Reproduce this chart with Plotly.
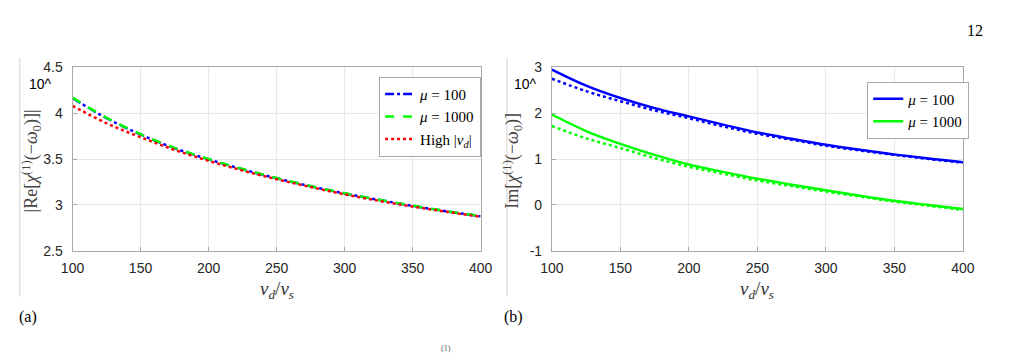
import plotly.graph_objects as go

W, H = 1012, 362

# ---------------- data ----------------
vd = [100, 125, 150, 175, 200, 225, 250, 275, 300, 325, 350, 375, 400]

# panel (a): |Re[chi^(1)(-w0)]|
re_mu100 = [4.165, 3.945, 3.768, 3.618, 3.497, 3.388, 3.290, 3.203, 3.125, 3.055, 2.990, 2.930, 2.876]
re_mu1000 = [4.170, 3.950, 3.772, 3.622, 3.500, 3.391, 3.293, 3.205, 3.127, 3.057, 2.992, 2.932, 2.878]
re_high = [4.080, 3.890, 3.738, 3.600, 3.480, 3.375, 3.280, 3.195, 3.115, 3.045, 2.982, 2.925, 2.870]

# panel (b): Im[chi^(1)(-w0)]
im_mu100 = [2.95, 2.60, 2.33, 2.11, 1.93, 1.75, 1.58, 1.44, 1.31, 1.20, 1.10, 1.01, 0.93]
im_mu100_hi = [2.75, 2.48, 2.26, 2.06, 1.89, 1.71, 1.55, 1.42, 1.29, 1.185, 1.09, 1.00, 0.92]
im_mu1000 = [1.97, 1.61, 1.33, 1.09, 0.88, 0.72, 0.57, 0.44, 0.32, 0.20, 0.09, 0.00, -0.09]
im_mu1000_hi = [1.72, 1.45, 1.24, 1.02, 0.83, 0.68, 0.53, 0.41, 0.29, 0.18, 0.07, -0.02, -0.11]

x_ticks = [100, 150, 200, 250, 300, 350, 400]
ya_ticks = [2.5, 3, 3.5, 4, 4.5]
ya_text = ["2.5", "3", "3.5", "4", "4.5"]
yb_ticks = [-1, 0, 1, 2, 3]
yb_text = ["-1", "0", "1", "2", "3"]

BLUE, GREEN, RED = "#0000ff", "#00ff00", "#ff0000"
SERIF = "Liberation Serif"
SANS = "Liberation Sans"

fig = go.Figure()

# panel (a)
fig.add_trace(go.Scatter(x=vd, y=re_mu100, mode="lines", line=dict(color=BLUE, width=2.5, dash="dashdot", shape="spline"),
                         name="<i>μ</i> = 100", xaxis="x", yaxis="y", legend="legend"))
fig.add_trace(go.Scatter(x=vd, y=re_mu1000, mode="lines", line=dict(color=GREEN, width=2.5, dash="dash", shape="spline"),
                         name="<i>μ</i> = 1000", xaxis="x", yaxis="y", legend="legend"))
fig.add_trace(go.Scatter(x=vd, y=re_high, mode="lines", line=dict(color=RED, width=2.5, dash="dot", shape="spline"),
                         name="High |<i>v</i><sub><i>d</i></sub>|", xaxis="x", yaxis="y", legend="legend"))

# panel (b)
fig.add_trace(go.Scatter(x=vd, y=im_mu100, mode="lines", line=dict(color=BLUE, width=2.5, shape="spline"),
                         name="<i>μ</i> = 100", xaxis="x2", yaxis="y2", legend="legend2"))
fig.add_trace(go.Scatter(x=vd, y=im_mu1000, mode="lines", line=dict(color=GREEN, width=2.5, shape="spline"),
                         name="<i>μ</i> = 1000", xaxis="x2", yaxis="y2", legend="legend2"))
fig.add_trace(go.Scatter(x=vd, y=im_mu100_hi, mode="lines", line=dict(color=BLUE, width=2.5, dash="dot", shape="spline"),
                         showlegend=False, xaxis="x2", yaxis="y2"))
fig.add_trace(go.Scatter(x=vd, y=im_mu1000_hi, mode="lines", line=dict(color=GREEN, width=2.5, dash="dot", shape="spline"),
                         showlegend=False, xaxis="x2", yaxis="y2"))

y_dom = [1 - 254 / H, 1 - 62 / H]
axis_common = dict(showline=True, linecolor="#a8a8a8", linewidth=1, mirror=True,
                   showgrid=True, gridcolor="#e8e8e8", gridwidth=1, zeroline=False,
                   ticks="inside", ticklen=4, tickcolor="#a8a8a8",
                   tickfont=dict(family=SANS, size=14, color="#262626"))

fig.update_layout(
    width=W, height=H, margin=dict(l=0, r=0, t=0, b=0),
    paper_bgcolor="white", plot_bgcolor="white",
    xaxis=dict(domain=[62 / W, 480 / W], range=[100, 400], tickvals=x_ticks, anchor="y",
               ticklabelstandoff=4, **axis_common),
    yaxis=dict(domain=y_dom, range=[2.5, 4.5], tickvals=ya_ticks, ticktext=ya_text, anchor="x",
               ticklabelstandoff=6, **axis_common),
    xaxis2=dict(domain=[553 / W, 974 / W], range=[100, 400], tickvals=x_ticks, anchor="y2",
                ticklabelstandoff=4, **axis_common),
    yaxis2=dict(domain=y_dom, range=[-1, 3], tickvals=yb_ticks, ticktext=yb_text, anchor="x2",
                ticklabelstandoff=6, **axis_common),
    legend=dict(x=376 / W, y=1 - 72 / H, xanchor="left", yanchor="top",
                bgcolor="white", bordercolor="#a8a8a8", borderwidth=1,
                font=dict(family=SERIF, size=15, color="#000000"),
                itemwidth=30, tracegroupgap=0),
    legend2=dict(x=876 / W, y=1 - 77 / H, xanchor="left", yanchor="top",
                 bgcolor="white", bordercolor="#a8a8a8", borderwidth=1,
                 font=dict(family=SERIF, size=15, color="#000000"),
                 itemwidth=30, tracegroupgap=0),
    showlegend=True,
)

ann = []
def txt(x, y, text, size=14, family=SANS, color="#000000", angle=0, xanchor="center"):
    ann.append(dict(x=x / W, y=1 - y / H, xref="paper", yref="paper", text=text, showarrow=False,
                    font=dict(family=family, size=size, color=color), textangle=angle,
                    xanchor=xanchor, yanchor="middle"))

xlab = "<i>v</i><sub><i>d</i></sub>/<i>v</i><sub><i>s</i></sub>"
txt(271, 295, xlab, size=19, family=SERIF, color="#333333")
txt(763, 295, xlab, size=19, family=SERIF, color="#333333")
txt(20, 160, "|Re[<i>χ</i><sup>(1)</sup>(−<i>ω</i><sub>0</sub>)]|", size=18, family=SERIF, color="#444444", angle=-90)
txt(513, 160, "Im[<i>χ</i><sup>(1)</sup>(−<i>ω</i><sub>0</sub>)]", size=18, family=SERIF, color="#444444", angle=-90)
txt(29, 80, "10^", size=14)
txt(526, 80, "10^", size=14)
txt(16, 323, "(a)", size=16, family=SERIF)
txt(514, 323, "(b)", size=16, family=SERIF)
txt(986, 24, "12", size=16, family=SERIF)
txt(445, 356, "(1)", size=8, family=SERIF, color="#555555")
fig.update_layout(annotations=ann)

shapes = []
for xp in (8, 507):
    shapes.append(dict(type="line", xref="paper", yref="paper", x0=xp / W, x1=xp / W,
                       y0=1 - 52 / H, y1=1 - 302 / H, line=dict(color="#d0d0d0", width=1)))
fig.update_layout(shapes=shapes)

fig.write_html("out.html")
